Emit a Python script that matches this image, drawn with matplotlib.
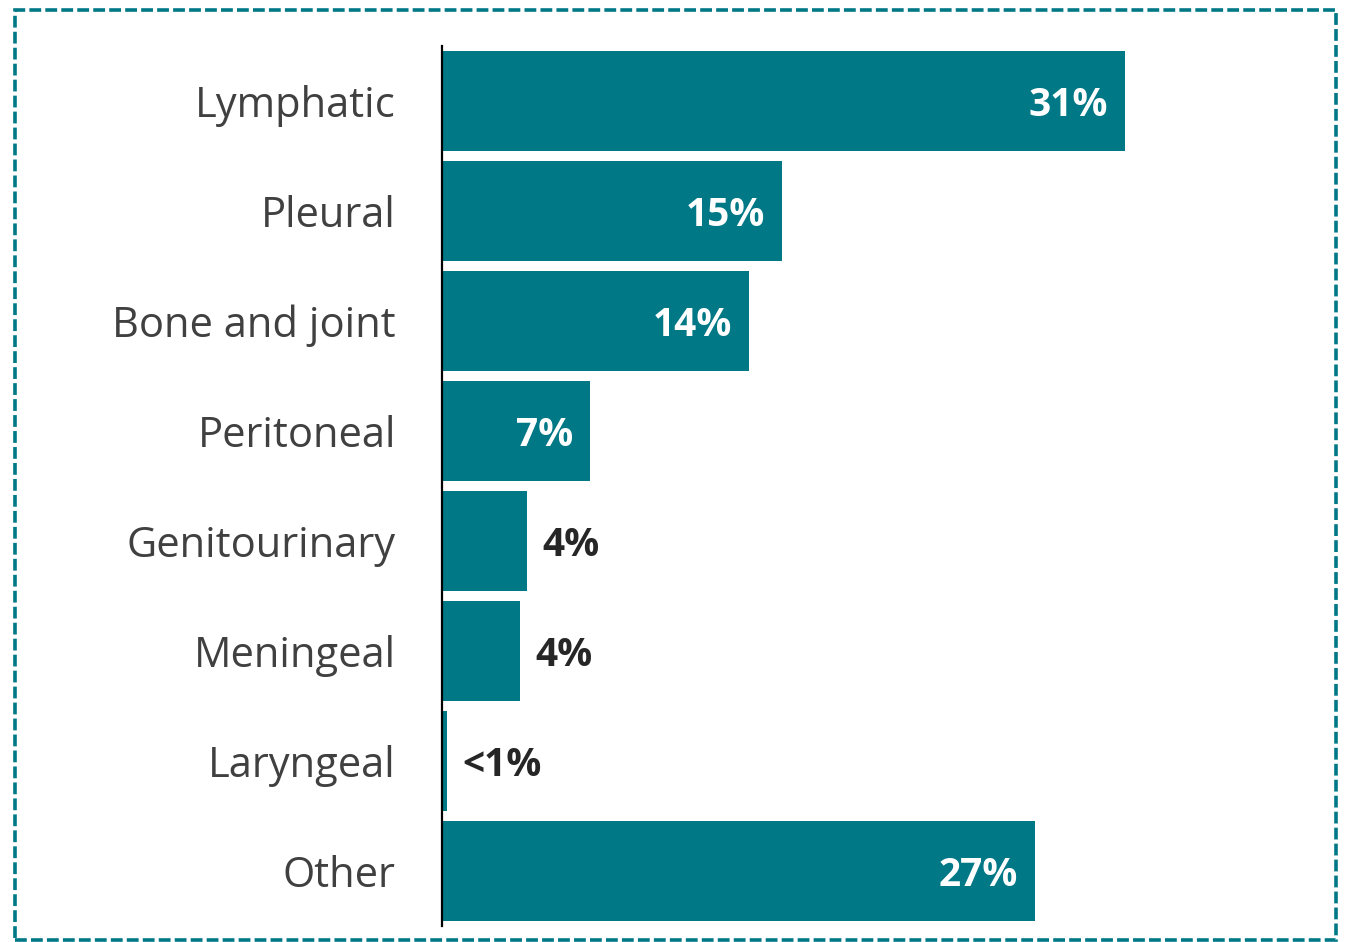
import matplotlib
matplotlib.use("Agg")
import matplotlib.pyplot as plt
from matplotlib.patches import Rectangle

plt.rcParams["font.family"] = ["Open Sans", "DejaVu Sans"]
plt.rcParams["lines.scale_dashes"] = False

# Sites of extrapulmonary disease, share of cases (%)
categories = ["Lymphatic", "Pleural", "Bone and joint", "Peritoneal",
              "Genitourinary", "Meningeal", "Laryngeal", "Other"]
shares = [31.0, 15.4, 13.9, 6.7, 3.8, 3.5, 0.2, 26.9]

TEAL = "#007886"
W, H = 1350, 942
fig = plt.figure(figsize=(W / 100, H / 100), dpi=100)

# plot area in pixel terms
left, right, top, bottom = 443, 1301, 46, 926
ax = fig.add_axes([left / W, 1 - bottom / H, (right - left) / W, (bottom - top) / H])

ypos = list(range(len(categories)))
ax.barh(ypos, shares, height=0.91, color=TEAL, zorder=2)
ax.set_xlim(0, 39)
ax.set_ylim(len(categories) - 0.5, -0.5)

for y, v in zip(ypos, shares):
    label = "<1%" if v < 1 else f"{round(v):.0f}%"
    if v >= 6:
        ax.annotate(label, (v, y), xytext=(-12, -3), textcoords="offset points",
                    ha="right", va="center", color="white",
                    fontsize=28, fontweight="bold")
    else:
        ax.annotate(label, (v, y), xytext=(11, -3), textcoords="offset points",
                    ha="left", va="center", color="#262626",
                    fontsize=28, fontweight="bold")

ax.set_yticks(ypos)
ax.set_yticklabels(categories)
ax.tick_params(axis="y", length=0, pad=33, labelsize=30, labelcolor="#404040")
ax.set_xticks([])
for side in ("top", "right", "bottom"):
    ax.spines[side].set_visible(False)
ax.spines["left"].set_color("black")
ax.spines["left"].set_linewidth(1.6)
ax.spines["left"].set_position(("outward", 1))

# dashed frame around the chart
frame = Rectangle((15 / W, 1 - 940 / H), (1336 - 15) / W, (940 - 10) / H,
                  transform=fig.transFigure, fill=False, edgecolor=TEAL,
                  linewidth=2.6, linestyle=(0, (8.5, 3)), clip_on=False)
fig.patches.append(frame)

fig.savefig("out.png", dpi=100)
